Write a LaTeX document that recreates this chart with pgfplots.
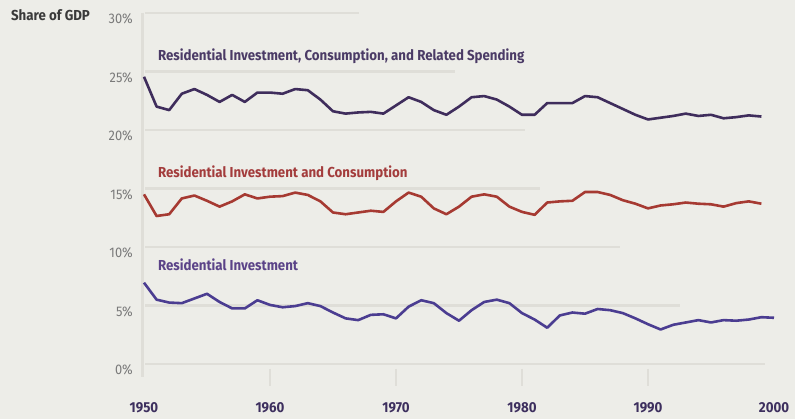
\documentclass[border=0pt]{standalone}
\usepackage{pgfplots}
\pgfplotsset{compat=1.18}
\usepackage{pgfplotstable}
\usepackage{fontspec}
\setmainfont[FakeStretch=0.92]{Fira Sans}
\usetikzlibrary{backgrounds}
\definecolor{bg}{HTML}{EDEDE8}
\definecolor{gridc}{HTML}{DFDED8}
\definecolor{topc}{HTML}{3F2D5C}
\definecolor{midc}{HTML}{A63A32}
\definecolor{botc}{HTML}{4B3D91}
\definecolor{toplab}{HTML}{4B3B66}
\definecolor{midlab}{HTML}{A33C3C}
\definecolor{botlab}{HTML}{5B4388}
\definecolor{xlab}{HTML}{3D2F5E}
\definecolor{ylab}{HTML}{7A7A7A}
\definecolor{titlec}{HTML}{3A3A3A}

\pgfplotstableread{
year top mid bot
1950 24.55 14.5 6.95
1951 22.0 12.65 5.5
1952 21.7 12.8 5.25
1953 23.1 14.15 5.2
1954 23.5 14.4 5.6
1955 23.0 13.95 6.0
1956 22.4 13.45 5.3
1957 23.0 13.9 4.75
1958 22.4 14.5 4.75
1959 23.2 14.15 5.45
1960 23.2 14.3 5.05
1961 23.1 14.35 4.85
1962 23.5 14.65 4.95
1963 23.4 14.45 5.2
1964 22.6 13.9 4.95
1965 21.6 12.95 4.4
1966 21.4 12.8 3.9
1967 21.5 12.95 3.75
1968 21.55 13.1 4.2
1969 21.4 13.0 4.25
1970 22.1 13.9 3.9
1971 22.8 14.65 4.9
1972 22.4 14.3 5.45
1973 21.7 13.3 5.2
1974 21.3 12.8 4.35
1975 22.0 13.45 3.7
1976 22.8 14.3 4.6
1977 22.9 14.5 5.3
1978 22.6 14.3 5.5
1979 22.0 13.45 5.2
1980 21.3 13.0 4.35
1981 21.3 12.75 3.8
1982 22.3 13.8 3.1
1983 22.3 13.9 4.15
1984 22.3 13.95 4.4
1985 22.9 14.7 4.3
1986 22.8 14.7 4.7
1987 22.3 14.45 4.6
1988 21.8 14.0 4.35
1989 21.3 13.7 3.9
1990 20.9 13.3 3.4
1991 21.05 13.55 2.95
1992 21.2 13.65 3.35
1993 21.4 13.8 3.55
1994 21.2 13.7 3.75
1995 21.3 13.65 3.55
1996 21.0 13.45 3.75
1997 21.1 13.75 3.7
1998 21.25 13.9 3.8
1999 21.15 13.7 4.0
2000 nan nan 3.95
}\data

\begin{document}
\begin{tikzpicture}
\begin{axis}[
  scale only axis, width=630bp, height=351bp,
  xmin=1950, xmax=2000, ymin=0, ymax=30,
  clip=false,
  axis line style={draw=none},
  major tick length=0pt,
  xtick={1950,1960,1970,1980,1990,2000},
  xticklabels={1950,1960,1970,1980,1990,2000},
  ytick={0,5,10,15,20,25,30},
  yticklabel={\pgfmathprintnumber{\tick}\%},
  /pgf/number format/assume math mode=true,
  xticklabel style={anchor=base, inner sep=0pt, yshift=-48bp, font=\fontsize{14.5}{16}\selectfont\bfseries, text=xlab},
  yticklabel style={anchor=east, inner sep=0pt, xshift=-11bp, yshift=-6bp, font=\fontsize{14}{16}\selectfont, text=ylab},
]
\coordinate (O) at (axis cs:1950,0);
% decorative grid
\draw[gridc, line width=2.6bp] (axis cs:1950.1,30) -- (axis cs:1967.1,30);
\draw[gridc, line width=2.6bp] (axis cs:1950.1,25) -- (axis cs:1974.7,25);
\draw[gridc, line width=2.6bp] (axis cs:1950.1,20) -- (axis cs:1980.2,20);
\draw[gridc, line width=2.6bp] (axis cs:1950.1,15) -- (axis cs:1981.4,15);
\draw[gridc, line width=2.6bp] (axis cs:1950.1,10) -- (axis cs:1987.8,10);
\draw[gridc, line width=2.6bp] (axis cs:1950.1,5) -- (axis cs:1992.5,5);
\draw[gridc, line width=2.6bp] (axis cs:1950.1,0) -- (axis cs:1999.3,0);
\draw[gridc, line width=2.6bp] (axis cs:1949.9,30) -- (axis cs:1949.9,-1.1);
\draw[gridc, line width=2bp] (axis cs:1960,-0.4) -- (axis cs:1960,-1.9);
\draw[gridc, line width=2bp] (axis cs:1970,-0.4) -- (axis cs:1970,-1.9);
\draw[gridc, line width=2bp] (axis cs:1980,-0.4) -- (axis cs:1980,-1.9);
\draw[gridc, line width=2bp] (axis cs:1990,-0.4) -- (axis cs:1990,-1.9);

\addplot[topc, line width=2.6bp, line join=round] table[x=year, y=top] {\data};
\addplot[midc, line width=2.6bp, line join=round] table[x=year, y=mid] {\data};
\addplot[botc, line width=2.6bp, line join=round] table[x=year, y=bot] {\data};

\node[anchor=base west, inner sep=0pt, text=toplab, font=\fontsize{14.5}{16}\selectfont\bfseries] at (axis cs:1951.1,25.95) {Residential Investment, Consumption, and Related Spending};
\node[anchor=base west, inner sep=0pt, text=midlab, font=\fontsize{14.5}{16}\selectfont\bfseries] at (axis cs:1951.1,15.9) {Residential Investment and Consumption};
\node[anchor=base west, inner sep=0pt, text=botlab, font=\fontsize{14.5}{16}\selectfont\bfseries] at (axis cs:1951.1,7.95) {Residential Investment};
\node[anchor=base west, inner sep=0pt, text=titlec, font=\fontsize{14.5}{16}\selectfont\bfseries] at (axis cs:1939.44,29.4) {Share of GDP};
\end{axis}
\begin{scope}[on background layer]
\fill[bg] ([shift={(-144bp,-55bp)}]O) rectangle ([shift={(651bp,364bp)}]O);
\end{scope}
\end{tikzpicture}
\end{document}
